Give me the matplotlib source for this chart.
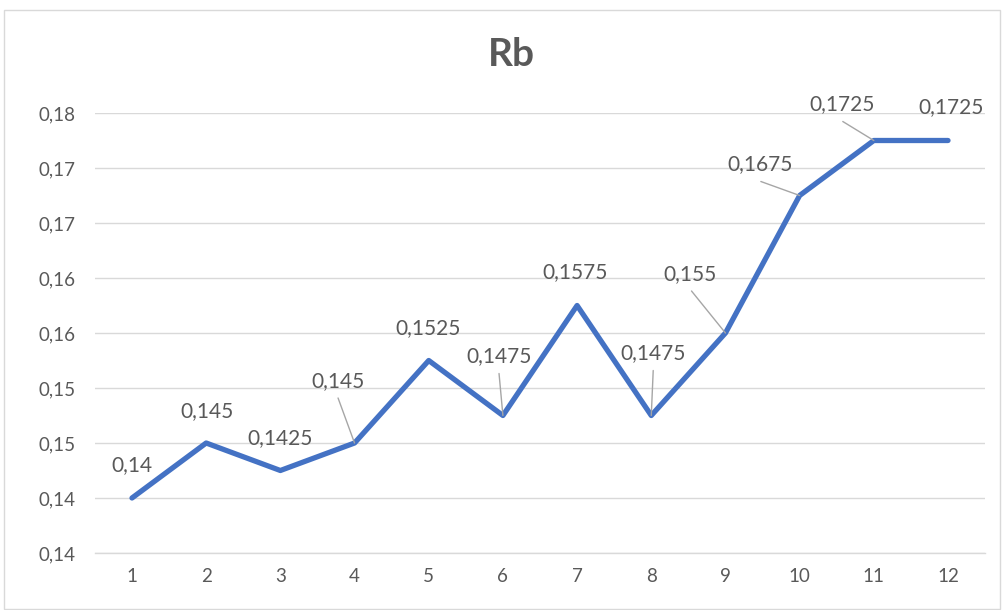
import matplotlib
matplotlib.use("Agg")
import matplotlib.pyplot as plt
from matplotlib.patches import Rectangle
from matplotlib.ticker import FixedLocator, FuncFormatter

categories = [str(i) for i in range(1, 13)]
values = [0.14, 0.145, 0.1425, 0.145, 0.1525, 0.1475, 0.1575, 0.1475, 0.155, 0.1675, 0.1725, 0.1725]
labels = ["0,14", "0,145", "0,1425", "0,145", "0,1525", "0,1475", "0,1575", "0,1475", "0,155", "0,1675", "0,1725", "0,1725"]
yticks = [0.135, 0.14, 0.145, 0.15, 0.155, 0.16, 0.165, 0.17, 0.175]

# label offsets (pixels, dx, dy upward) and whether a leader line is drawn
label_off = [(0, 33), (1, 32), (0, 32), (-17, 62), (-1, 32), (-4, 59), (-2, 33), (2, 62), (-35, 59), (-40, 31), (-32, 36), (3, 33)]
leader = [False, False, False, True, False, True, False, True, True, True, True, False]

plt.rcParams['font.family'] = ['Lato', 'DejaVu Sans']
TXT = '#595959'

fig = plt.figure(figsize=(10.03, 6.10), dpi=100)
fig.patches.append(Rectangle((4 / 1003, 0.002), 996 / 1003, (603 - 7) / 610 + 0.005,
                             transform=fig.transFigure, fill=False, edgecolor='#D9D9D9', linewidth=1))
ax = fig.add_axes([94.9 / 1003, (610 - 553) / 610, 890.2 / 1003, 440 / 610])

x = list(range(1, 13))
ax.plot(x, values, color='#4472C4', linewidth=3.8, solid_capstyle='round', solid_joinstyle='round', zorder=3)
ax.set_xlim(0.5, 12.5)
ax.set_ylim(0.135, 0.175)
ax.set_xticks(x)
ax.set_xticklabels(categories)
ax.yaxis.set_major_locator(FixedLocator(yticks))
ax.yaxis.set_major_formatter(FuncFormatter(lambda v, p: ("%.2f" % (v + 1e-9)).replace('.', ',')))
ax.grid(axis='y', color='#D9D9D9', linewidth=1)
ax.set_axisbelow(True)
for s in ['top', 'right', 'left']:
    ax.spines[s].set_visible(False)
ax.spines['bottom'].set_color('#D9D9D9')
ax.spines['bottom'].set_linewidth(1)
ax.tick_params(axis='both', length=0, labelsize=13.5, colors=TXT)
ax.tick_params(axis='y', pad=14)
ax.tick_params(axis='x', pad=11)

for xi, v, lab, (dx, dy), ld in zip(x, values, labels, label_off, leader):
    ax.annotate(lab, (xi, v), xytext=(dx * 0.72, dy * 0.72), textcoords='offset points',
                ha='center', va='center', fontsize=15, color=TXT, zorder=5, annotation_clip=False)
    if ld:
        # leader from point toward bottom of label
        ax.annotate('', (xi, v), xytext=(dx * 0.72 * 0.97, (dy - 17) * 0.72), textcoords='offset points',
                    arrowprops=dict(arrowstyle='-', color='#A6A6A6', linewidth=1, shrinkA=0, shrinkB=0),
                    zorder=4, annotation_clip=False)

fig.text(511 / 1003, 1 - 55 / 610, 'Rb', ha='center', va='center', fontsize=28, fontweight='bold', color=TXT)

fig.savefig('out.png', dpi=100)
